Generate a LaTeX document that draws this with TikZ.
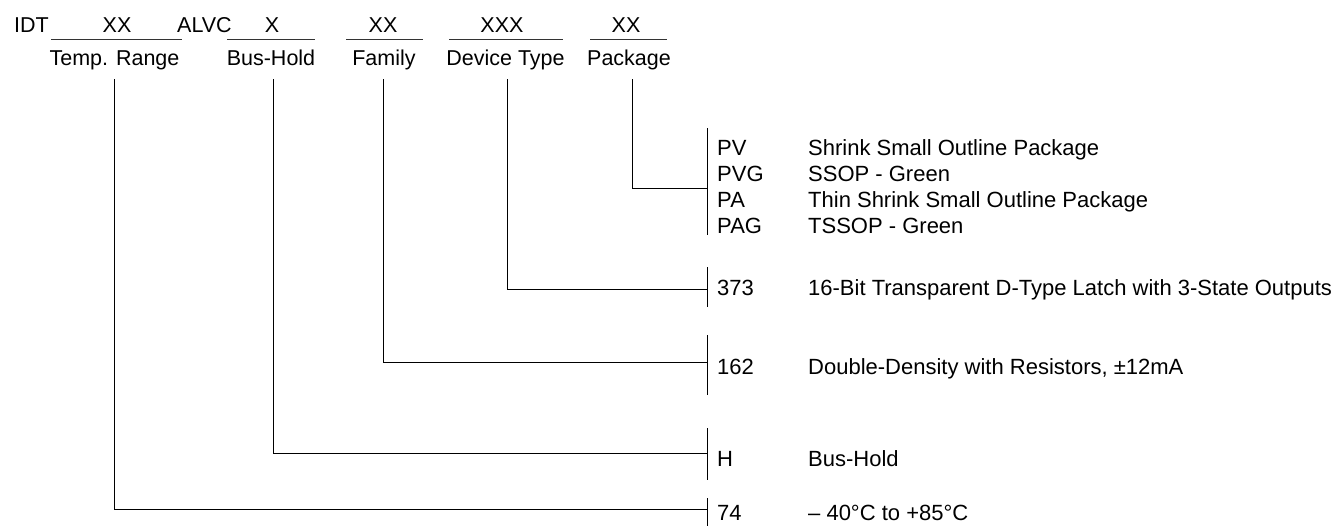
\documentclass[tikz,border=0pt]{standalone}
\usepackage{fontspec}
\setmainfont{Liberation Sans}
\begin{document}
\begin{tikzpicture}[x=1pt,y=-1pt,
  txt/.style={inner sep=0pt,anchor=base,font=\fontsize{21.5}{26}\selectfont},
  txtw/.style={inner sep=0pt,anchor=base west,font=\fontsize{22}{26}\selectfont},
  ln/.style={line width=1pt},
  ul/.style={line width=0.9pt,black!80}]
\useasboundingbox (0,0) rectangle (1336,525);
% top row
\node[txt,anchor=base west] (idt) at (14,32) {IDT};
\node[txt] (xx1) at (117,32) {XX};
\node[txt,anchor=base west] (alvc) at (177,32) {ALVC};
\node[txt] (x1) at (272,32) {X};
\node[txt] (xx2) at (383,32) {XX};
\node[txt] (xxx) at (502,32) {XXX};
\node[txt] (xx3) at (626,32) {XX};
% underlines
\coordinate (u1a) at (51,39); \coordinate (u1b) at (182,39);
\coordinate (u2a) at (227,39); \coordinate (u2b) at (315,39);
\coordinate (u3a) at (346,39); \coordinate (u3b) at (423,39);
\coordinate (u4a) at (449,39); \coordinate (u4b) at (563,39);
\coordinate (u5a) at (590,39); \coordinate (u5b) at (667,39);
\draw[ul] (u1a) -- (u1b);
\draw[ul] (u2a) -- (u2b);
\draw[ul] (u3a) -- (u3b);
\draw[ul] (u4a) -- (u4b);
\draw[ul] (u5a) -- (u5b);
% labels
\node[txt] (ltemp) at (114.5,65) {Temp. Range};
\node[txt] (lbus) at (271,65) {Bus-Hold};
\node[txt] (lfam) at (384,65) {Family};
\node[txt] (ldev) at (505.5,65) {Device Type};
\node[txt] (lpkg) at (629,65) {Package};
% connector starts
\coordinate (stemp) at (114,79);
\coordinate (sbus) at (273,79);
\coordinate (sfam) at (383,79);
\coordinate (sdev) at (507,79);
\coordinate (spkg) at (632,79);
% bar junctions
\coordinate (jpkg) at (707,188);
\coordinate (jdev) at (707,289);
\coordinate (jfam) at (707,362);
\coordinate (jbus) at (707,453);
\coordinate (jtemp) at (707,509);
% bars
\coordinate (bpkga) at (707,128); \coordinate (bpkgb) at (707,235);
\coordinate (bdeva) at (707,267); \coordinate (bdevb) at (707,307);
\coordinate (bfama) at (707,335); \coordinate (bfamb) at (707,395);
\coordinate (bbusa) at (707,428); \coordinate (bbusb) at (707,480);
\coordinate (btempa) at (707,498); \coordinate (btempb) at (707,526);
\draw[ln] (bpkga) -- (bpkgb);
\draw[ln] (bdeva) -- (bdevb);
\draw[ln] (bfama) -- (bfamb);
\draw[ln] (bbusa) -- (bbusb);
\draw[ln] (btempa) -- (btempb);
% connectors
\draw[ln] (spkg) |- (jpkg);
\draw[ln] (sdev) |- (jdev);
\draw[ln] (sfam) |- (jfam);
\draw[ln] (sbus) |- (jbus);
\draw[ln] (stemp) |- (jtemp);
% codes and descriptions
\node[txtw] (cpv) at (717,155) {PV};
\node[txtw] (dpv) at (808,155) {Shrink Small Outline Package};
\node[txtw] (cpvg) at (717,181) {PVG};
\node[txtw] (dpvg) at (808,181) {SSOP - Green};
\node[txtw] (cpa) at (717,207) {PA};
\node[txtw] (dpa) at (808,207) {Thin Shrink Small Outline Package};
\node[txtw] (cpag) at (717,233) {PAG};
\node[txtw] (dpag) at (808,233) {TSSOP - Green};
\node[txtw] (c373) at (717,295) {373};
\node[txtw] (d373) at (808,295) {16-Bit Transparent D-Type Latch with 3-State Outputs};
\node[txtw] (c162) at (717,374) {162};
\node[txtw] (d162) at (808,374) {Double-Density with Resistors, ±12mA};
\node[txtw] (ch) at (717,466) {H};
\node[txtw] (dh) at (808,466) {Bus-Hold};
\node[txtw] (c74) at (717,520) {74};
\node[txtw] (d74) at (808,520) {– 40°C to +85°C};
\end{tikzpicture}
\end{document}
